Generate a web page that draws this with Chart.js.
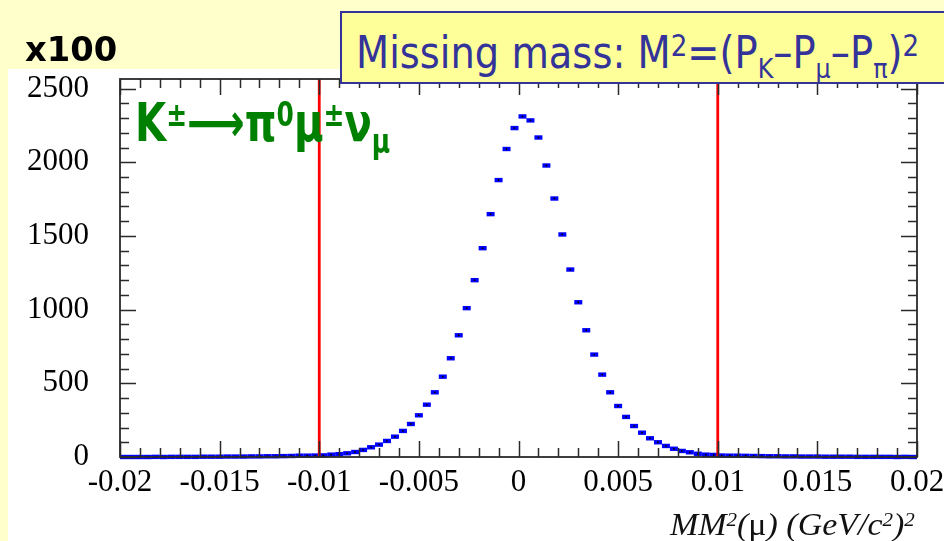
<!DOCTYPE html>
<html>
<head>
<meta charset="utf-8">
<title>Missing mass</title>
<script src="https://cdn.jsdelivr.net/npm/chart.js@4.4.1/dist/chart.umd.min.js"></script>
<style>
    html, body { margin: 0; padding: 0; }
    body {
        width: 944px; height: 541px; position: relative; overflow: hidden;
        background: #FFFFCC;
        font-family: "DejaVu Sans", sans-serif;
    }
    #panel { position: absolute; left: 8px; top: 69px; right: 0; bottom: 0; background: #ffffff; }
    #chartWrap { position: absolute; left: 0; top: 0; width: 944px; height: 541px; }
    .txt { position: absolute; white-space: nowrap; transform-origin: 0 0; line-height: 1; }
    .sup { font-size: 0.62em; position: relative; top: -0.45em; }
    .sub { font-size: 0.62em; position: relative; top: 0.35em; }
    #mult { left: 25px; top: 30px; font: bold 33px "DejaVu Sans", sans-serif; color: #000; }
    #decay { left: 135px; top: 92px; font: bold 53px "DejaVu Sans", sans-serif; color: #008000; }
    #titleBox {
        position: absolute; left: 340px; top: 11px; width: 640px; height: 69px;
        background: #FFFF99; border: 2px solid #333399;
    }
    #title { left: 356px; top: 27px; font: 44px "DejaVu Sans", sans-serif; color: #333399; }
    #title .sup { font-size: 0.68em; top: -0.4em; }
    #xTitle { left: 670px; top: 506px; font: italic 32px "Liberation Serif", serif; color: #111; }
    #xTitle .up { font-style: normal; }
</style>
</head>
<body>
<div id="panel"></div>
<div id="chartWrap"><canvas id="mmChart" width="944" height="541"></canvas></div>
<div id="titleBox"></div>
<div id="title" class="txt">Missing mass: M<span class="sup">2</span>=(P<span class="sub">K</span>–P<span class="sub">μ</span>–P<span class="sub">π</span>)<span class="sup">2</span></div>
<div id="mult" class="txt">x100</div>
<div id="decay" class="txt">K<span class="sup">±</span>⟶π<span class="sup">0</span>μ<span class="sup">±</span>ν<span class="sub">μ</span></div>
<div id="xTitle" class="txt">MM<span class="sup">2</span>(<span class="up">μ</span>) (GeV/c<span class="sup">2</span>)<span class="sup">2</span></div>

<script>
// histogram binning: 100 bins from -0.02 to 0.02 (GeV/c^2)^2
const binLow = -0.02;
const binWidth = 0.0004;

// entries per bin (in units of 100)
const counts = [
    0, 0, 0, 0, 1, 0, 1, 1, 1, 1,
    2, 2, 2, 3, 3, 3, 4, 4, 5, 5,
    6, 7, 9, 9, 10, 11, 16, 19, 25, 34,
    48, 66, 84, 109, 138, 177, 224, 283, 355, 439,
    545, 670, 826, 1010, 1200, 1417, 1648, 1879, 2090, 2232,
    2311, 2284, 2168, 1978, 1754, 1510, 1272, 1050, 860, 695,
    559, 439, 346, 272, 210, 165, 127, 100, 75, 56,
    41, 32, 22, 16, 14, 10, 9, 9, 8, 7,
    6, 5, 5, 4, 4, 3, 3, 3, 2, 2,
    2, 2, 1, 1, 1, 1, 1, 0, 1, 0
];

// selection window
const cutEdges = [-0.01, 0.01];

const xTickValues = [-0.02, -0.015, -0.01, -0.005, 0, 0.005, 0.01, 0.015, 0.02];
const yTickValues = [0, 500, 1000, 1500, 2000, 2500];
const xRange = [-0.02, 0.02];
const yRange = [0, 2565];

const histPoints = counts.map((c, i) => ({ x: binLow + (i + 0.5) * binWidth, y: c }));

// ROOT-like frame: box on all four sides with inward ticks
const frameTicks = {
    id: 'frameTicks',
    afterDatasetsDraw(chart) {
        const { ctx, chartArea: a, scales: { x, y } } = chart;
        ctx.save();
        ctx.strokeStyle = '#2a2a2a';
        ctx.lineWidth = 1.5;
        ctx.beginPath();
        for (let i = 0; i <= 40; i++) {
            const px = Math.round(x.getPixelForValue(xRange[0] + i * 0.001)) + 0.5;
            const len = i % 5 === 0 ? 16 : 9;
            ctx.moveTo(px, a.bottom); ctx.lineTo(px, a.bottom - len);
            ctx.moveTo(px, a.top); ctx.lineTo(px, a.top + len);
        }
        for (let i = 0; i <= 25; i++) {
            const py = Math.round(y.getPixelForValue(i * 100)) + 0.5;
            const len = i % 5 === 0 ? 16 : 9;
            ctx.moveTo(a.left, py); ctx.lineTo(a.left + len, py);
            ctx.moveTo(a.right, py); ctx.lineTo(a.right - len, py);
        }
        ctx.stroke();
        ctx.lineWidth = 1.8;
        ctx.strokeRect(a.left, a.top, a.right - a.left, a.bottom - a.top);
        ctx.restore();
    }
};

const tickFont = { family: '"Liberation Serif", "Times New Roman", serif', size: 31 };

new Chart(document.getElementById('mmChart'), {
    type: 'scatter',
    data: {
        datasets: [
            {
                type: 'line',
                data: [{ x: cutEdges[0], y: yRange[0] }, { x: cutEdges[0], y: yRange[1] }],
                borderColor: '#FF0000', borderWidth: 2.8, pointRadius: 0
            },
            {
                type: 'line',
                data: [{ x: cutEdges[1], y: yRange[0] }, { x: cutEdges[1], y: yRange[1] }],
                borderColor: '#FF0000', borderWidth: 2.8, pointRadius: 0
            },
            {
                data: histPoints,
                pointStyle: 'circle', pointRadius: 0.9, borderWidth: 0,
                backgroundColor: '#000000', clip: false
            },
            {
                data: histPoints,
                pointStyle: 'line', pointRadius: 4, borderWidth: 4.4,
                borderColor: '#0000FF', clip: false
            }
        ]
    },
    options: {
        responsive: false,
        animation: false,
        events: [],
        layout: { padding: { left: 0, top: 79, right: 27, bottom: 0 } },
        plugins: { legend: { display: false }, tooltip: { enabled: false } },
        scales: {
            x: {
                type: 'linear', min: xRange[0], max: xRange[1],
                grid: { display: false, drawTicks: false },
                border: { display: false },
                afterBuildTicks: s => { s.ticks = xTickValues.map(v => ({ value: v })); },
                afterFit: s => { s.height = 84; s.paddingLeft = 0; s.paddingRight = 0; },
                ticks: {
                    font: tickFont, color: '#000', padding: 7,
                    autoSkip: false, maxRotation: 0,
                    callback: v => String(Number(v.toFixed(3)))
                }
            },
            y: {
                type: 'linear', min: yRange[0], max: yRange[1],
                grid: { display: false, drawTicks: false },
                border: { display: false },
                afterBuildTicks: s => { s.ticks = yTickValues.map(v => ({ value: v })); },
                afterFit: s => { s.width = 120; s.paddingTop = 0; s.paddingBottom = 0; },
                ticks: { font: tickFont, color: '#000', padding: 31, callback: v => String(v) }
            }
        }
    },
    plugins: [frameTicks]
});

// squeeze the overlay captions to their widths on the page
function fitWidth(id, w) {
    const el = document.getElementById(id);
    el.style.transform = 'scaleX(' + (w / el.offsetWidth) + ')';
}
fitWidth('title', 563);
fitWidth('mult', 92);
fitWidth('decay', 255);
fitWidth('xTitle', 245);
</script>
</body>
</html>
